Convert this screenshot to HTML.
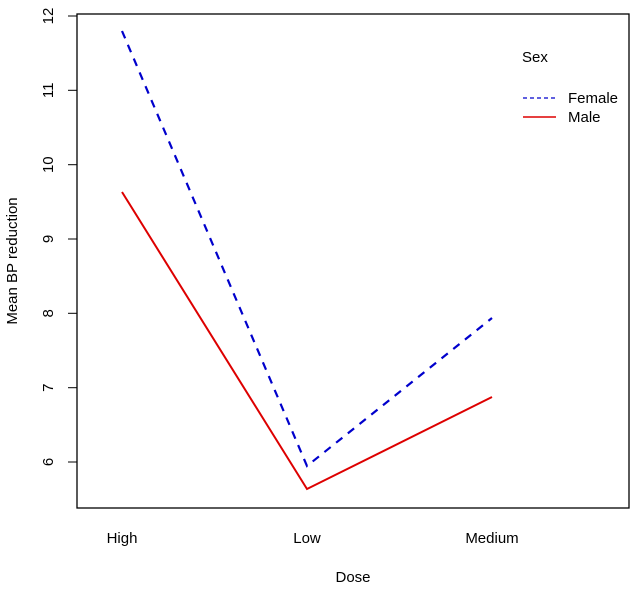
<!DOCTYPE html>
<html><head><style>body{margin:0;background:#fff}svg{display:block}text{font-family:"Liberation Sans",Arial,sans-serif;fill:#000}</style></head>
<body>
<svg width="640" height="592" viewBox="0 0 640 592" xmlns="http://www.w3.org/2000/svg">
<rect x="77" y="14" width="552" height="494" fill="none" stroke="#000" stroke-width="1.3"/>
<g stroke="#000" stroke-width="1">
<line x1="68" y1="16" x2="77" y2="16"/><line x1="68" y1="90.3" x2="77" y2="90.3"/>
<line x1="68" y1="164.7" x2="77" y2="164.7"/><line x1="68" y1="239" x2="77" y2="239"/>
<line x1="68" y1="313.3" x2="77" y2="313.3"/><line x1="68" y1="387.7" x2="77" y2="387.7"/>
<line x1="68" y1="462" x2="77" y2="462"/>
</g>
<g font-size="15" text-anchor="middle">
<text transform="translate(48,16) rotate(-90)" dy="5">12</text>
<text transform="translate(48,90.3) rotate(-90)" dy="5">11</text>
<text transform="translate(48,164.7) rotate(-90)" dy="5">10</text>
<text transform="translate(48,239) rotate(-90)" dy="5">9</text>
<text transform="translate(48,313.3) rotate(-90)" dy="5">8</text>
<text transform="translate(48,387.7) rotate(-90)" dy="5">7</text>
<text transform="translate(48,462) rotate(-90)" dy="5">6</text>
<text x="122" y="543">High</text><text x="307" y="543">Low</text><text x="492" y="543">Medium</text>
<text x="353" y="582">Dose</text>
<text transform="translate(17,261) rotate(-90)">Mean BP reduction</text>
</g>
<polyline points="122,31 307,466 492,318" fill="none" stroke="#0000cc" stroke-width="2.2" stroke-dasharray="8,7"/>
<polyline points="122,192 307,489 492,397" fill="none" stroke="#dd0000" stroke-width="2"/>
<text x="522" y="62" font-size="15">Sex</text>
<line x1="523" y1="98" x2="556" y2="98" stroke="#0000cc" stroke-width="1.3" stroke-dasharray="4,3"/>
<line x1="523" y1="117" x2="556" y2="117" stroke="#dd0000" stroke-width="1.5"/>
<text x="568" y="103" font-size="15">Female</text>
<text x="568" y="122" font-size="15">Male</text>
</svg>
</body></html>
